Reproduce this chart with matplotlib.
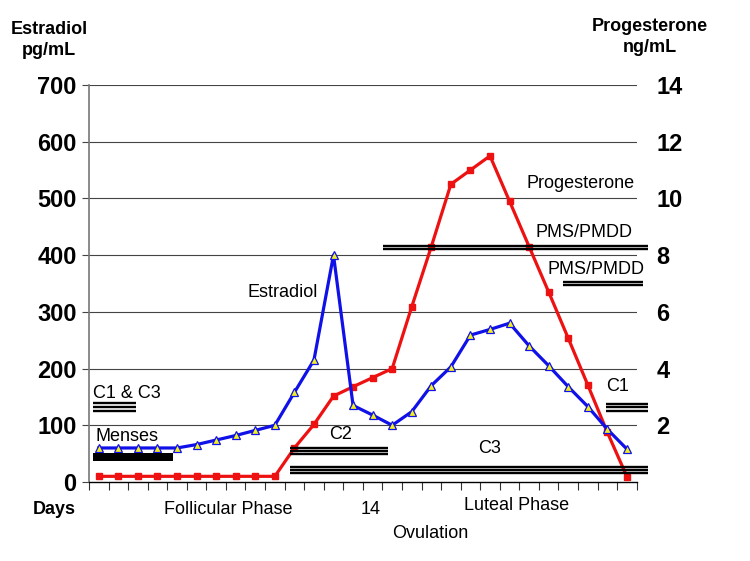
import matplotlib
matplotlib.use("Agg")
import matplotlib.pyplot as plt
import numpy as np

plt.rcParams['font.family'] = ['Liberation Sans', 'DejaVu Sans']

days = list(range(1, 29))
estradiol = [60, 60, 60, 60, 60, 66, 74, 82, 91, 100, 158, 215, 400, 135, 118, 100,
             124, 170, 203, 259, 269, 280, 240, 205, 168, 133, 93, 58]
progesterone = [0.2, 0.2, 0.2, 0.2, 0.2, 0.2, 0.2, 0.2, 0.2, 0.2, 1.2, 2.03, 3.03, 3.36,
                3.68, 4.0, 6.18, 8.3, 10.5, 11.0, 11.5, 9.9, 8.3, 6.7, 5.07, 3.42, 1.75, 0.19]
left_ticks = [0, 100, 200, 300, 400, 500, 600, 700]
right_ticks = [2, 4, 6, 8, 10, 12, 14]

# bars: (label, x_start, x_end, y values in estradiol units)
bars = [
    ("C1 & C3", 0.68, 2.88, [139, 132, 125]),
    ("C2", 10.8, 15.78, [60.5, 54.7, 48.8]),
    ("C3", 10.8, 29.1, [27, 21.2, 15.3]),
    ("PMS/PMDD", 15.51, 29.1, [416.7, 410.9]),
    ("PMS/PMDD", 24.73, 28.83, [352.7, 347.4]),
    ("C1", 26.95, 29.1, [137.5, 131.7, 125.7]),
]
menses = (0.69, 4.79, 37.6, 50.6)

labels = [
    ("Progesterone", 22.85, 527),
    ("PMS/PMDD", 23.35, 440),
    ("PMS/PMDD", 23.94, 375),
    ("Estradiol", 8.62, 334),
    ("C1 & C3", 0.73, 156),
    ("Menses", 0.83, 81),
    ("C2", 12.78, 83),
    ("C3", 20.38, 59),
    ("C1", 26.94, 168),
]

fig = plt.figure(figsize=(7.5, 5.61), dpi=100)
ax = fig.add_axes([89/750, 1-482/561, (636.7-89)/750, (482-85)/561])
ax.set_xlim(0.5, 28.5)
ax.set_ylim(0, 700)

for t in left_ticks[1:]:
    ax.axhline(t, color='#444444', lw=0.8, zorder=1)

ax.plot(days, estradiol, color='#1010e8', lw=2.3, marker='^', markersize=6,
        markerfacecolor='#f0f020', markeredgecolor='#1010e8', markeredgewidth=0.9, zorder=4)
ax.plot(days, [p * 50 for p in progesterone], color='#ee1111', lw=2.3, marker='s',
        markersize=4.5, markerfacecolor='#ee1111', markeredgecolor='#ee1111', zorder=3)

for name, x0, x1, ys in bars:
    for y in ys:
        ax.plot([x0, x1], [y, y], color='black', lw=1.7, solid_capstyle='butt',
                clip_on=False, zorder=5)
ax.fill_between([menses[0], menses[1]], menses[2], menses[3], color='black', lw=0, zorder=5)

for txt, x, y in labels:
    ax.text(x, y, txt, fontsize=13, ha='left', va='center', zorder=6)

ax.spines['top'].set_visible(False)
ax.spines['right'].set_visible(False)
ax.spines['left'].set_color('#777777')
ax.spines['left'].set_linewidth(1.2)
ax.spines['bottom'].set_color('black')
ax.spines['bottom'].set_linewidth(1.0)

ax.set_yticks(left_ticks)
ax.set_yticklabels([str(t) for t in left_ticks], fontsize=17, fontweight='bold')
ax.tick_params(axis='y', length=5, width=0.8, color='#444444', pad=4)
ax.set_xticks(np.arange(0.5, 28.6, 1.0))
ax.set_xticklabels([])
ax.tick_params(axis='x', length=6, width=0.8, color='#333333', direction='out')

ax2 = ax.twinx()
ax2.set_ylim(0, 14)
ax2.set_yticks(right_ticks)
ax2.set_yticklabels([str(t) for t in right_ticks], fontsize=17, fontweight='bold')
ax2.tick_params(axis='y', length=0, pad=14)
for s in ax2.spines.values():
    s.set_visible(False)

W, H = 750, 561
def ftext(px, py, s, **kw):
    fig.text(px / W, 1 - py / H, s, ha='center', va='center', **kw)

ftext(49, 40, "Estradiol\npg/mL", fontsize=13, fontweight='bold', linespacing=1.25)
ftext(650, 37, "Progesterone\nng/mL", fontsize=13, fontweight='bold', linespacing=1.25)
ftext(54, 509, "Days", fontsize=13, fontweight='bold')
ftext(228, 509, "Follicular Phase", fontsize=13)
ftext(371, 509, "14", fontsize=13)
ftext(517, 506, "Luteal Phase", fontsize=13)
ftext(430, 534, "Ovulation", fontsize=13)

fig.savefig("out.png", dpi=100)
